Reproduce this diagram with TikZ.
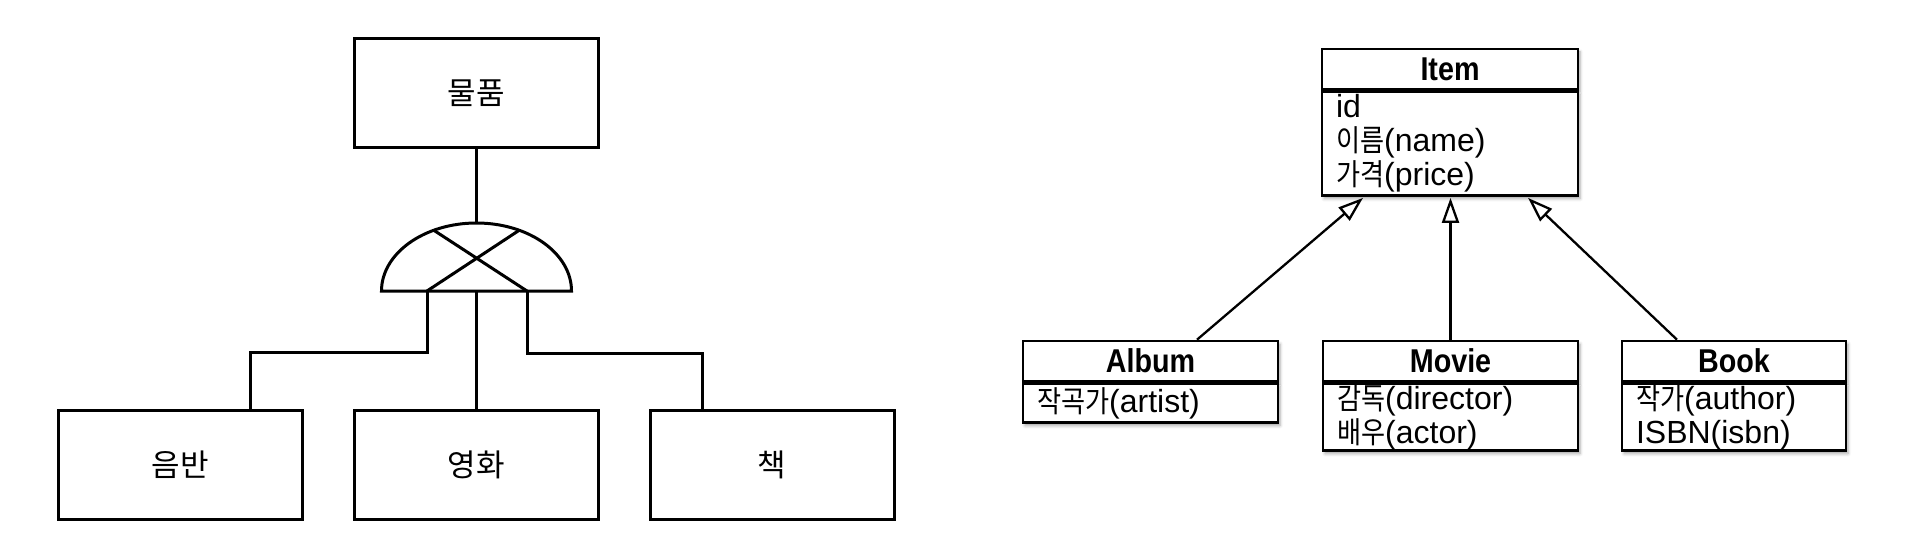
\documentclass[tikz,border=0pt]{standalone}
\usepackage{fontspec}
\setmainfont{Liberation Sans}
\newfontfamily\krl{Noto Sans CJK KR}
\newfontfamily\krfont[FakeStretch=0.87,Scale=0.94]{Noto Sans CJK KR}
\newfontfamily\ttlfont[FakeStretch=0.87]{Liberation Sans}
\newcommand\krt[1]{{\krfont #1}}
\usetikzlibrary{arrows.meta,shadows.blur,calc}
\begin{document}
\begin{tikzpicture}[x=1pt,y=-1pt,
  er/.style={draw, line width=3pt, minimum width=244pt, minimum height=109pt, inner sep=0pt, font=\krl\fontsize{31}{36}\selectfont},
  conn/.style={line width=3pt},
  shadowed/.style={blur shadow={shadow xshift=2pt,shadow yshift=-3pt,shadow blur radius=3pt,shadow opacity=35}},
  umlT/.style={draw, fill=white, line width=2.6pt, minimum height=40pt, inner sep=0pt, font=\ttlfont\bfseries\fontsize{33}{36}\selectfont, shadowed},
  umlA/.style={draw, fill=white, line width=2.6pt, inner xsep=14pt, inner ysep=0pt, align=left, anchor=north, font=\fontsize{32}{34}\selectfont, shadowed},
  inh/.style={line width=2.3pt, -{Triangle[open,length=25pt,width=17pt]}}]
\useasboundingbox (0,0) rectangle (1908,548);
% ---------- left: ER-style diagram ----------
\node[er] (top) at (476.5,93) {물품};
\node[er] (b1) at (180.5,464.5) {음반};
\node[er] (b2) at (476.5,464.5) {영화};
\node[er] (b3) at (772,464.5) {책};
\coordinate (gt) at (476.5,223);
\coordinate (gl) at (427,291);
\coordinate (gm) at (476.5,291);
\coordinate (gr) at (527,291);
\coordinate (d1) at ($(b1.north east)+(-54,0)$);
\coordinate (d3) at ($(b3.north west)+(54,0)$);
\draw[conn] (381.5,291) arc[start angle=180, end angle=0, x radius=95pt, y radius=68pt] -- cycle;
\draw[conn] (434,230.4) -- (gr);
\draw[conn] (519,230.4) -- (gl);
\draw[conn] (top.south) -- (gt);
\draw[conn] (gl) -- ++(0,61.5) -| (d1);
\draw[conn] (gm) -- (b2.north);
\draw[conn] (gr) -- ++(0,62.5) -| (d3);
% ---------- right: UML class diagram ----------
\node[umlT, minimum width=256pt] (itemT) at (1450,69) {Item};
\node[umlA, text width=228pt, minimum height=104pt] (itemA) at (itemT.south) {id\\\krt{이름}(name)\\\krt{가격}(price)};
\node[umlT, minimum width=255pt] (albumT) at (1150.5,361) {Album};
\node[umlA, text width=227pt, minimum height=39pt] (albumA) at (albumT.south) {\krt{작곡가}(artist)};
\node[umlT, minimum width=255pt] (movieT) at (1450.5,361) {Movie};
\node[umlA, text width=227pt, minimum height=67pt] (movieA) at (movieT.south) {\krt{감독}(director)\\\krt{배우}(actor)};
\node[umlT, minimum width=224pt] (bookT) at (1734,361) {Book};
\node[umlA, text width=196pt, minimum height=67pt] (bookA) at (bookT.south) {\krt{작가}(author)\\ISBN(isbn)};
\draw[inh] ($(albumT.north)+(46.5,0)$) -- ($(itemA.south)+(-87,1)$);
\draw[inh] (movieT.north) -- ($(movieT.north |- itemA.south)+(0,1)$);
\draw[inh] ($(bookT.north)+(-57,0)$) -- ($(itemA.south)+(78,1)$);
\end{tikzpicture}
\end{document}
